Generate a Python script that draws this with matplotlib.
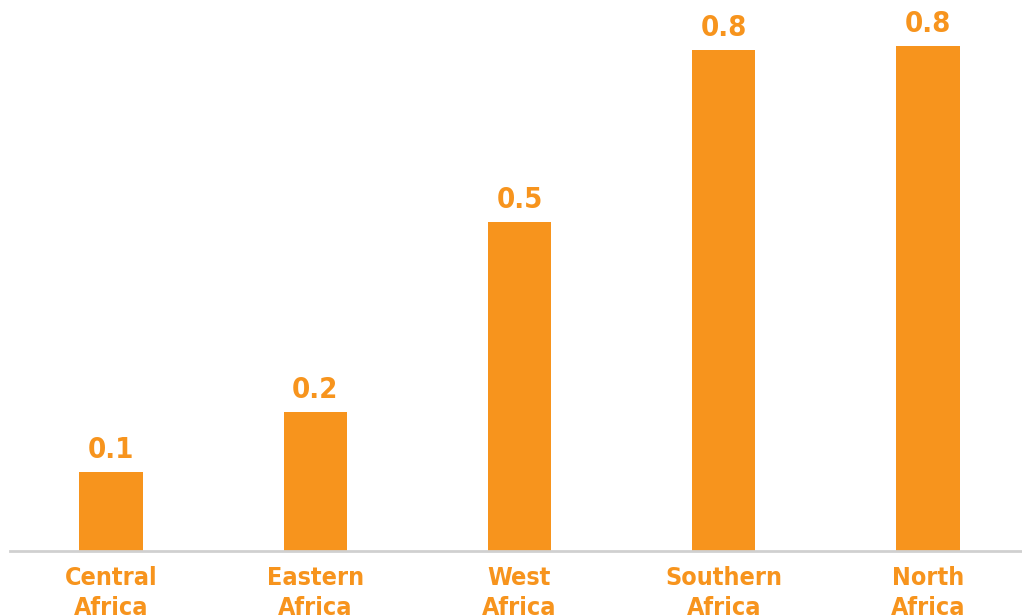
import matplotlib
matplotlib.use("Agg")
import matplotlib.pyplot as plt
from matplotlib import font_manager

regions = ["Central\nAfrica", "Eastern\nAfrica", "West\nAfrica", "Southern\nAfrica", "North\nAfrica"]
values = [0.122, 0.214, 0.506, 0.771, 0.777]

orange = "#F7941D"
# narrow bold face if there is one, else plain DejaVu
names = {f.name for f in font_manager.fontManager.ttflist}
font = [n for n in ["Liberation Sans Narrow", "DejaVu Sans Condensed", "DejaVu Sans"] if n in names]

fig = plt.figure(figsize=(10.22, 6.16), dpi=100)
ax = fig.add_axes([10 / 1022, 65 / 616, 1012 / 1022, 551 / 616])

x = list(range(len(values)))
ax.bar(x, values, width=0.31, color=orange, zorder=2)

for xi, v in zip(x, values):
    ax.text(xi, v + 0.012, f"{v:.1f}", ha="center", va="bottom",
            color=orange, fontsize=21, fontweight="bold", family=font,
            fontstretch="condensed")

ax.set_xlim(-0.494, 4.46)
ax.set_ylim(0, 0.848)

ax.set_xticks(x)
ax.set_xticklabels(regions, color=orange, fontsize=18, fontweight="bold",
                   family=font, fontstretch="condensed", linespacing=1.3)
ax.tick_params(axis="x", length=0, pad=11)
ax.set_yticks([])

for s in ["top", "right", "left"]:
    ax.spines[s].set_visible(False)
ax.spines["bottom"].set_color("#d0d0d0")
ax.spines["bottom"].set_linewidth(2)

fig.savefig("out.png", dpi=100)
